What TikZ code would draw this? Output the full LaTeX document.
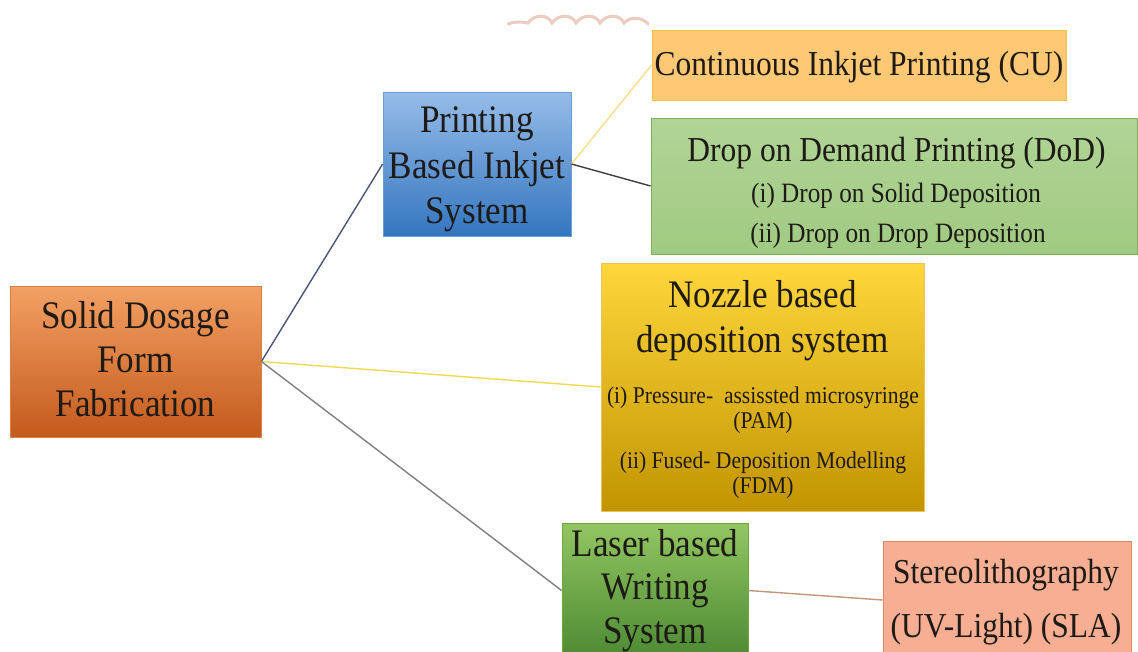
\documentclass[tikz,border=0pt]{standalone}
\usepackage{fontspec}
\newfontfamily\tnr[FakeStretch=0.9]{Liberation Serif}
\definecolor{txtc}{HTML}{1E1A16}
\begin{document}
\begin{tikzpicture}[x=1pt,y=-1pt,
  box/.style={draw, line width=0.8pt, inner sep=0pt},
  txt/.style={anchor=base, inner sep=0pt, text=txtc},
  big/.style={font=\tnr\fontsize{39}{44}\selectfont},
  mid/.style={font=\tnr\fontsize{35}{40}\selectfont},
  sml/.style={font=\tnr\fontsize{28}{32}\selectfont},
  tiny/.style={font=\tnr\fontsize{24}{28}\selectfont},
  conn/.style={line width=1.4pt}]
\useasboundingbox (0,0) rectangle (1138,651);
\clip (0,0) rectangle (1138,651);
\fill[white] (0,0) rectangle (1138,651);

% faint mark at top
\draw[color={rgb,255:red,236;green,204;blue,194}, line width=3pt, line cap=round]
  (508,24) .. controls (515,21) and (522,22) .. (528,23)
  .. controls (534,14) and (548,14) .. (552,23)
  .. controls (558,14) and (572,14) .. (576,23)
  .. controls (582,14) and (596,14) .. (600,23)
  .. controls (606,14) and (620,14) .. (624,23)
  .. controls (630,16) and (642,17) .. (648,24);

% boxes
\node[box, minimum width=251pt, minimum height=151pt, top color={rgb,255:red,243;green,160;blue,100}, bottom color={rgb,255:red,196;green,90;blue,28}, draw={rgb,255:red,214;green,128;blue,74}] (sol) at (135.5,361.5) {};
\node[box, minimum width=188pt, minimum height=144pt, top color={rgb,255:red,150;green,188;blue,232}, bottom color={rgb,255:red,52;green,118;blue,192}, draw={rgb,255:red,110;green,156;blue,213}] (prt) at (477,164) {};
\node[box, minimum width=414pt, minimum height=70pt, fill={rgb,255:red,255;green,200;blue,116}, draw={rgb,255:red,242;green,195;blue,74}] (cij) at (859,65) {};
\node[box, minimum width=486pt, minimum height=136pt, top color={rgb,255:red,176;green,212;blue,150}, bottom color={rgb,255:red,160;green,202;blue,130}, draw={rgb,255:red,125;green,175;blue,92}] (dod) at (894,186) {};
\node[box, minimum width=323pt, minimum height=248pt, top color={rgb,255:red,255;green,214;blue,60}, bottom color={rgb,255:red,194;green,149;blue,0}, draw={rgb,255:red,232;green,194;blue,90}] (noz) at (762.5,387) {};
\node[box, minimum width=186pt, minimum height=135pt, top color={rgb,255:red,146;green,198;blue,97}, bottom color={rgb,255:red,76;green,138;blue,51}, draw={rgb,255:red,111;green,166;blue,74}] (las) at (655,590.5) {};
\node[box, minimum width=248pt, minimum height=118pt, fill={rgb,255:red,247;green,174;blue,146}, draw={rgb,255:red,224;green,138;blue,104}] (sla) at (1007,600) {};

% connectors
\draw[conn, color={rgb,255:red,75;green,85;blue,120}] (sol.east) -- (prt.west);
\draw[conn, color={rgb,255:red,240;green,218;blue,80}] (sol.east) -- (noz.west);
\draw[conn, color={rgb,255:red,128;green,128;blue,128}] (sol.east) -- (las.west);
\draw[conn, color={rgb,255:red,248;green,222;blue,138}] (prt.east) -- (cij.west);
\draw[conn, color={rgb,255:red,63;green,63;blue,63}] (prt.east) -- (dod.west);
\draw[conn, color={rgb,255:red,196;green,150;blue,122}] (las.east) -- (sla.west);

% texts
\node[txt, big] (solA) at (135.5,328) {Solid Dosage};
\node[txt, big] (solB) at (135.5,372) {Form};
\node[txt, big] (solC) at (135.5,416) {Fabrication};

\node[txt, big] (prtA) at (477,132) {Printing};
\node[txt, big] (prtB) at (477,178) {Based Inkjet};
\node[txt, big] (prtC) at (477,223) {System};

\node[txt, mid] (cijA) at (859,75) {Continuous Inkjet Printing (CU)};

\node[txt, mid] (dodA) at (896.5,161) {Drop on Demand Printing (DoD)};
\node[txt, sml] (dodB) at (896,202) {(i) Drop on Solid Deposition};
\node[txt, sml] (dodC) at (898,242) {(ii) Drop on Drop Deposition};

\node[txt, big] (nozA) at (762.5,307) {Nozzle based};
\node[txt, big] (nozB) at (762.5,352) {deposition system};
\node[txt, tiny] (nozC) at (763,403) {(i) Pressure-~ assissted microsyringe};
\node[txt, tiny] (nozD) at (763,428) {(PAM)};
\node[txt, tiny] (nozE) at (763,468) {(ii) Fused- Deposition Modelling};
\node[txt, tiny] (nozF) at (763,493) {(FDM)};

\node[txt, big] (lasA) at (655,556) {Laser based};
\node[txt, big] (lasB) at (655,599) {Writing};
\node[txt, big] (lasC) at (655,643) {System};

\node[txt, mid] (slaA) at (1006,583) {Stereolithography};
\node[txt, mid] (slaB) at (1006,637) {(UV-Light) (SLA)};
\end{tikzpicture}
\end{document}
